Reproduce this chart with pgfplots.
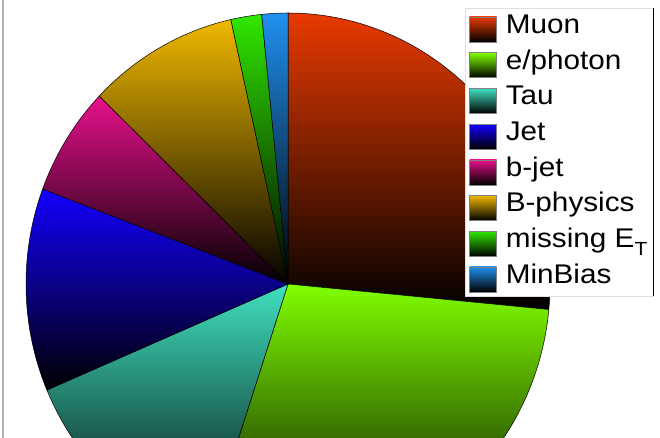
\documentclass[border=0pt]{standalone}
\usepackage{pgfplots}
\pgfplotsset{compat=1.18}
\usepackage{fontspec}
\setmainfont{Liberation Sans}[FakeStretch=1.1]

\definecolor{cMuon}{HTML}{E83A00}
\definecolor{cEph}{HTML}{80FF00}
\definecolor{cTau}{HTML}{40E0C0}
\definecolor{cJet}{HTML}{1400FF}
\definecolor{cBjet}{HTML}{E8108C}
\definecolor{cBphys}{HTML}{F0B800}
\definecolor{cMiss}{HTML}{30E800}
\definecolor{cMinB}{HTML}{2090F0}

% slice shares in percent (clockwise from 12 o'clock)
% Muon 26.5, e/photon 28.6, Tau 13.5, Jet 12.1, b-jet 6.5, B-physics 9.3, missing ET 1.9, MinBias 1.6
\newcommand{\slice}[4]{%
  \addplot[draw=black, line width=0.5pt, top color=#3, bottom color=black,
    domain=#1:#2, samples=90, variable=\t]
    ({288+262*sin(3.6*\t)}, {154+271*cos(3.6*\t)}) -- (axis cs:288,154) -- cycle;
  \addlegendentry{#4}%
}

\begin{document}
\begin{tikzpicture}
\begin{axis}[
  scale only axis, width=660pt, height=438pt,
  xmin=0, xmax=660, ymin=0, ymax=438,
  hide axis, clip=true,
  legend cell align=left,
  legend image code/.code={\draw[#1, draw=black!50, line width=0.4pt] (0pt,-15pt) rectangle (27pt,10pt);},
  legend style={name=leg, at={(0.7045,0.9817)}, anchor=north west,
    draw=gray!25, line width=0.8pt, fill=white, inner sep=4pt,
    row sep=6pt, column sep=7pt,
    font=\fontsize{27}{30}\selectfont,
    nodes={inner sep=2pt, text height=19pt, text depth=6pt}},
]
\slice{0}{26.5}{cMuon}{Muon}
\slice{26.5}{55.1}{cEph}{e/photon}
\slice{55.1}{68.6}{cTau}{Tau}
\slice{68.6}{80.7}{cJet}{Jet}
\slice{80.7}{87.2}{cBjet}{b-jet}
\slice{87.2}{96.5}{cBphys}{B-physics}
\slice{96.5}{98.4}{cMiss}{missing E\raisebox{-8pt}{\fontsize{19}{19}\selectfont T}}
\slice{98.4}{100}{cMinB}{MinBias}
\draw[gray!60, line width=2pt] (axis cs:3,0) -- (axis cs:3,438);
\end{axis}
\draw[black, line width=1.6pt] (leg.north east) -- (leg.south east);
\pgfresetboundingbox
\path[use as bounding box] (current axis.south west) rectangle (current axis.north east);
\end{tikzpicture}
\end{document}
